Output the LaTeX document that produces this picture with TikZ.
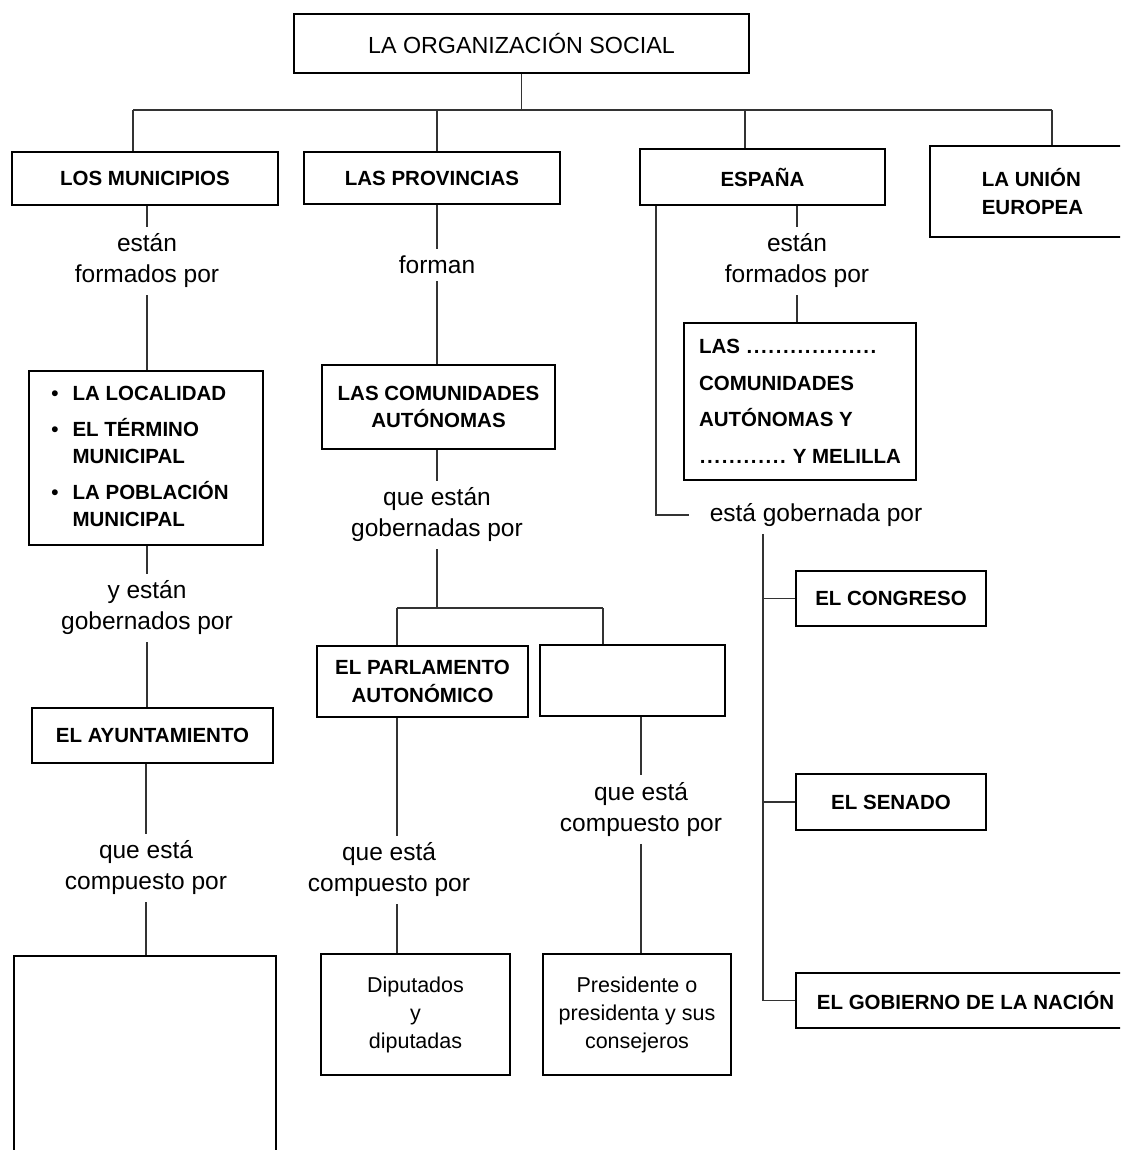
\documentclass[tikz,border=0pt]{standalone}
\usepackage{fontspec}
\setmainfont{Liberation Sans}
\usepackage{tikz}

\newcommand{\titulo}{\fontsize{23.3}{28}\selectfont}
\newcommand{\etiq}{\fontsize{24.5}{31}\selectfont}
\newcommand{\negr}{\fontsize{20.5}{27.5}\selectfont\bfseries}
\newcommand{\negrl}{\fontsize{20.5}{36.5}\selectfont\bfseries}
\newcommand{\peq}{\fontsize{21.5}{28}\selectfont}
\newcommand{\puntos}[1]{\hbox to #1{\leaders\hbox to 7.3pt{\hss.\hss}\hfil}}

\begin{document}
\begin{tikzpicture}[x=1pt, y=-1pt,
    caja/.style={draw, line width=1.5pt, inner sep=0pt, align=center, font=\negr},
    etiqueta/.style={align=center, inner xsep=0pt, inner ysep=7pt, font=\etiq},
    linea/.style={line width=1.2pt, black!80}]
  \useasboundingbox (0,0) rectangle (1120,1150);
  \clip (0,0) rectangle (1120,1150);

  \node[caja, font=\titulo, minimum width=455pt, minimum height=59pt] (org) at (521.5,43.5) {LA ORGANIZACIÓN SOCIAL};

  \node[caja, minimum width=266pt, minimum height=53pt] (mun) at (145,178.5) {LOS MUNICIPIOS};
  \node[caja, minimum width=256pt, minimum height=52pt] (prov) at (432,178) {LAS PROVINCIAS};
  \node[caja, minimum width=245pt, minimum height=56pt] (esp) at (762.5,177) {ESPAÑA};
  \node[caja, align=left, minimum width=205pt, minimum height=91pt] (ue) at (1032.5,191.5) {LA UNIÓN\\EUROPEA};

  \coordinate (b1) at (133,110);
  \coordinate (b2) at (437,110);
  \coordinate (b3) at (745,110);
  \coordinate (b4) at (1052,110);

  \draw[linea] (org) -- (org |- b1)
               (b1) -- (b4)
               (b1) -- (b1 |- mun.north)
               (b2) -- (b2 |- prov.north)
               (b3) -- (b3 |- esp.north)
               (b4) -- (b4 |- ue.north);

  \node[etiqueta] (l1) at (147,261) {están\\formados por};
  \node[caja, minimum width=234pt, minimum height=174pt] (loc) at (146,458)
    {\begin{tabular}{@{}l@{\hspace{14pt}}l@{\hspace{12pt}}}
       \textbullet & LA LOCALIDAD\\[8pt]
       \textbullet & EL TÉRMINO\\
                   & MUNICIPAL\\[8pt]
       \textbullet & LA POBLACIÓN\\
                   & MUNICIPAL
     \end{tabular}};
  \node[etiqueta] (l2) at (147,608) {y están\\gobernados por};
  \node[caja, minimum width=241pt, minimum height=55pt] (ayu) at (152.5,735.5) {EL AYUNTAMIENTO};
  \node[etiqueta] (l3) at (146,868) {que está\\compuesto por};
  \node[caja, minimum width=262pt, minimum height=214pt] (vac1) at (145,1063) {};

  \draw[linea] (mun.south -| l1) -- (l1) (l1) -- (l1 |- loc.north)
               (loc.south -| l2) -- (l2) (l2) -- (l2 |- ayu.north)
               (ayu.south -| l3) -- (l3) (l3) -- (l3 |- vac1.north);

  \node[etiqueta] (l6) at (437,265) {forman};
  \node[caja, minimum width=233pt, minimum height=84pt] (com) at (438.5,407) {LAS COMUNIDADES\\AUTÓNOMAS};
  \node[etiqueta] (l7) at (437,515) {que están\\gobernadas por};
  \node[caja, minimum width=211pt, minimum height=71pt] (parl) at (422.5,681.5) {EL PARLAMENTO\\AUTONÓMICO};
  \node[caja, minimum width=185pt, minimum height=71pt] (vac2) at (632.5,680.5) {};
  \node[etiqueta] (l8) at (389,870) {que está\\compuesto por};
  \node[etiqueta] (l9) at (641,809.5) {que está\\compuesto por};
  \node[caja, font=\peq, minimum width=189pt, minimum height=121pt] (dip) at (415.5,1014.5) {Diputados\\y\\diputadas};
  \node[caja, font=\peq, minimum width=188pt, minimum height=121pt] (pres) at (637,1014.5) {Presidente o\\presidenta y sus\\consejeros};

  \coordinate (r) at (437,608);
  \coordinate (r1) at (397,608);
  \coordinate (r2) at (603,608);

  \draw[linea] (prov.south -| l6) -- (l6) (l6) -- (l6 |- com.north)
               (com.south -| l7) -- (l7) (l7) -- (r)
               (r1) -- (r2) (r1) -- (r1 |- parl.north) (r2) -- (r2 |- vac2.north)
               (parl.south -| r1) -- (r1 |- l8.north) (r1 |- l8.south) -- (r1 |- dip.north)
               (vac2.south -| l9) -- (l9) (l9) -- (l9 |- pres.north);

  \node[etiqueta] (l4) at (797,261) {están\\formados por};
  \node[caja, align=left, font=\negrl, minimum width=232pt, minimum height=157pt] (cca) at (800,401.5)
    {LAS \puntos{134pt}\\COMUNIDADES\\AUTÓNOMAS Y\\\puntos{88pt} Y MELILLA};
  \node[etiqueta, inner xsep=21pt] (l5) at (816,515) {está gobernada por};
  \node[caja, minimum width=190pt, minimum height=55pt] (cong) at (891,598.5) {EL CONGRESO};
  \node[caja, minimum width=190pt, minimum height=56pt] (sen) at (891,802) {EL SENADO};
  \node[caja, minimum width=339pt, minimum height=55pt] (gob) at (965.5,1000.5) {EL GOBIERNO DE LA NACIÓN};

  \coordinate (e) at (656,515);
  \coordinate (g) at (763,1000.5);

  \draw[linea] (esp.south -| l4) -- (l4) (l4) -- (l4 |- cca.north)
               (esp.south -| e) |- (l5.west)
               (l5.south -| g) |- (gob.west)
               (g |- cong) -- (cong.west)
               (g |- sen) -- (sen.west);
\end{tikzpicture}
\end{document}
